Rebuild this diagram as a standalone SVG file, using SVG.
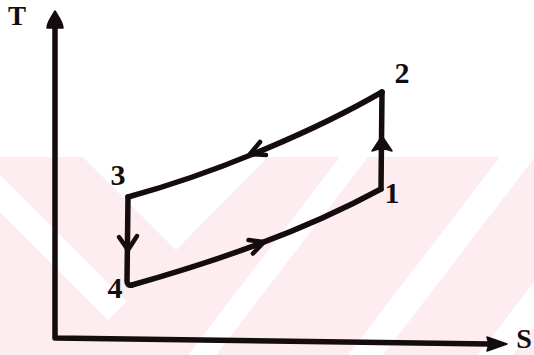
<svg xmlns="http://www.w3.org/2000/svg" width="534" height="355" viewBox="0 0 534 355">
<style>
.ink{stroke:#140c0d;fill:none;stroke-linecap:round;stroke-linejoin:round}
.line{stroke-width:5.5}
.head{fill:#140c0d;stroke:#140c0d;stroke-width:1.5;stroke-linejoin:round}
.lbl{font-family:"Liberation Serif","Times New Roman",serif;font-weight:bold;fill:#140c0d;text-anchor:middle}
.wm{fill:#fdedf0}
.wm-w{fill:#ffffff}
</style>
<rect x="0" y="0" width="534" height="355" fill="#ffffff"/>
<g id="watermark">
  <rect class="wm" x="0" y="157" width="534" height="198"/>
  <polygon class="wm-w" points="83,157 268,157 176,250"/>
  <polygon class="wm-w" points="0,175 0,212 108,320 126.5,301.5"/>
  <polygon class="wm-w" points="340,157 368,157 216,355 188,355"/>
  <polygon class="wm-w" points="500,157 535,157 383,355 348,355"/>
  <polygon class="wm-w" points="630,157 665,157 513,355 478,355"/>
</g>
<g id="axes">
  <path class="ink line" d="M55,26 L55,338 C200,340 350,342 490,344"/>
  <path class="head" d="M55,11 C52,16 47,22 47,28 L63,28 C63,22 58,16 55,11 Z"/>
  <path class="head" d="M507,344 L487,337 L489,344 L487,351 Z"/>
  <text class="lbl" x="17" y="25" font-size="27">T</text>
  <text class="lbl" x="524" y="348" font-size="28">S</text>
</g>
<g id="node-1"><text class="lbl" x="392" y="203" font-size="30">1</text></g>
<g id="node-2"><text class="lbl" x="402" y="83" font-size="30">2</text></g>
<g id="node-3"><text class="lbl" x="118" y="185" font-size="30">3</text></g>
<g id="node-4"><text class="lbl" x="115" y="298" font-size="30">4</text></g>
<g id="connectors">
  <path class="ink line" d="M381,189 L382,92"/>
  <path class="ink line" d="M382,92 C320,128 220,172 128,197"/>
  <path class="ink line" d="M128,197 L127,281 Q127,286 132,285"/>
  <path class="ink line" d="M132,285 C213,262 300,233 381,189"/>
  <path class="head" d="M382,136 L372,151 Q382,147 392,151 Z"/>
  <path class="ink" stroke-width="4.5" d="M260,142 L250,154 L266,155"/>
  <path class="ink" stroke-width="4.5" d="M119,237 L128,250 L137,236"/>
  <path class="ink" stroke-width="4.5" d="M248.5,240 L264,242 L253,253.5"/>
</g>
</svg>
